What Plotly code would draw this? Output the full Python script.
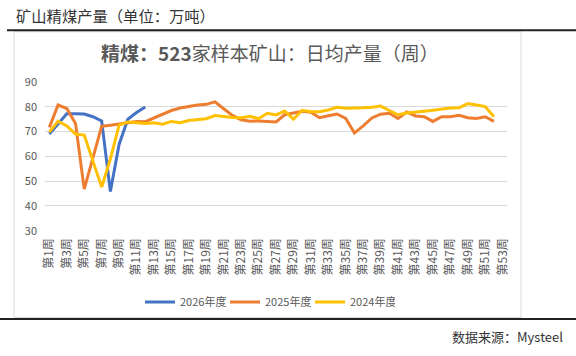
import plotly.graph_objects as go

# ---- data ----
weeks = [f"第{i}周" for i in range(1, 54)]
tick_weeks = weeks[::2]
y2026 = [69.0, 73.3, 77.2, 77.2, 77.1, 76.0, 74.3, 45.8, 64.8, 75.0, 77.7, 79.9]
y2025 = [71.7, 80.7, 79.3, 73.3, 46.8, 59.5, 72.1, 72.6, 73.2, 73.8,
         74.1, 74.0, 75.5, 77.3, 78.5, 79.5, 80.2, 80.7, 81.0, 82.0,
         79.2, 76.5, 74.8, 74.2, 74.3, 74.1, 73.9, 76.8, 77.4, 78.2,
         77.8, 75.6, 76.4, 77.1, 75.3, 69.4, 72.3, 75.5, 77.0, 77.4,
         75.3, 77.9, 76.3, 76.0, 74.1, 76.0, 76.0, 76.6, 75.6, 75.3,
         76.0, 74.1]
y2024 = [69.8, 74.2, 72.3, 69.0, 68.6, 58.4, 47.6, 59.0, 72.6, 73.9,
         73.7, 73.3, 73.6, 73.0, 74.1, 73.6, 74.5, 75.0, 75.2, 76.5,
         76.0, 75.7, 75.6, 76.2, 75.2, 77.4, 76.7, 78.3, 75.0, 78.6,
         78.0, 78.0, 78.7, 79.8, 79.4, 79.4, 79.6, 79.8, 80.3, 78.5,
         76.8, 77.5, 78.0, 78.2, 78.6, 79.1, 79.5, 79.6, 81.3, 80.7,
         80.1, 76.0]
series_names = ["2026年度", "2025年度", "2024年度"]
series_colors = ["#4472C4", "#ED7D31", "#FFC000"]
y_ticks = [30, 40, 50, 60, 70, 80, 90]

W, H = 576, 356
L, R, T, B = 45, 69, 82, 123
PW, PH = W - L - R, H - T - B

def px(x):
    return (x - L) / PW

def py(y):
    return (H - B - y) / PH

FONT = "Noto Sans CJK SC"

fig = go.Figure()
for name, ys, col in zip(series_names, [y2026, y2025, y2024], series_colors):
    fig.add_trace(go.Scatter(
        x=weeks[:len(ys)], y=ys, name=name, mode="lines",
        line=dict(color=col, width=3),
    ))

fig.update_layout(
    width=W, height=H,
    margin=dict(l=L, r=R, t=T, b=B, pad=0),
    paper_bgcolor="white", plot_bgcolor="white",
    font=dict(family=FONT, color="#595959", size=11),
    showlegend=True,
    legend=dict(orientation="h", xref="container", yref="container",
                x=267.5 / W, y=1 - 302 / H, xanchor="center", yanchor="middle",
                font=dict(size=11, color="#595959", family=FONT),
                itemwidth=30, entrywidth=40, tracegroupgap=0,
                bgcolor="rgba(0,0,0,0)"),
    xaxis=dict(type="category", categoryorder="array", categoryarray=weeks,
               range=[-0.5, 52.5], tickmode="array", tickvals=tick_weeks,
               ticktext=tick_weeks, tickangle=-90, showgrid=False,
               showline=False, zeroline=False, ticks="",
               ticklabelstandoff=4,
               tickfont=dict(size=12, color="#595959", family=FONT)),
    yaxis=dict(range=[30, 90], tickvals=y_ticks, showgrid=True,
               gridcolor="#D9D9D9", gridwidth=1, zeroline=False,
               showline=False, ticks="", ticklabelstandoff=7,
               tickfont=dict(size=11, color="#595959", family=FONT)),
)

shapes = [
    # chart box
    dict(type="rect", xref="paper", yref="paper",
         x0=px(14), x1=px(521), y0=py(321), y1=py(31),
         line=dict(color="#D9D9D9", width=1), fillcolor="rgba(0,0,0,0)", layer="below"),
    # top heavy rule
    dict(type="line", xref="paper", yref="paper",
         x0=px(7), x1=px(576), y0=py(29.5), y1=py(29.5),
         line=dict(color="#222222", width=2)),
    # bottom heavy rule
    dict(type="line", xref="paper", yref="paper",
         x0=px(0), x1=px(576), y0=py(322.5), y1=py(322.5),
         line=dict(color="#222222", width=2)),
]
fig.update_layout(shapes=shapes)

fig.add_annotation(text="矿山精煤产量（单位：万吨）", xref="paper", yref="paper",
                   x=px(14), y=py(14), xanchor="left", yanchor="middle",
                   showarrow=False, font=dict(size=15.3, color="#333333", family=FONT))
fig.add_annotation(text="<b>精煤：523</b>家样本矿山：日均产量（周）", xref="paper", yref="paper",
                   x=px(270), y=py(52), xanchor="center", yanchor="middle",
                   showarrow=False, font=dict(size=19, color="#595959", family=FONT))
fig.add_annotation(text="数据来源：Mysteel", xref="paper", yref="paper",
                   x=px(565), y=py(340), xanchor="right", yanchor="middle",
                   showarrow=False, font=dict(size=13, color="#333333", family=FONT))

fig.write_html("out.html", config={"displayModeBar": False},
               post_script="document.body.style.margin='0';")
